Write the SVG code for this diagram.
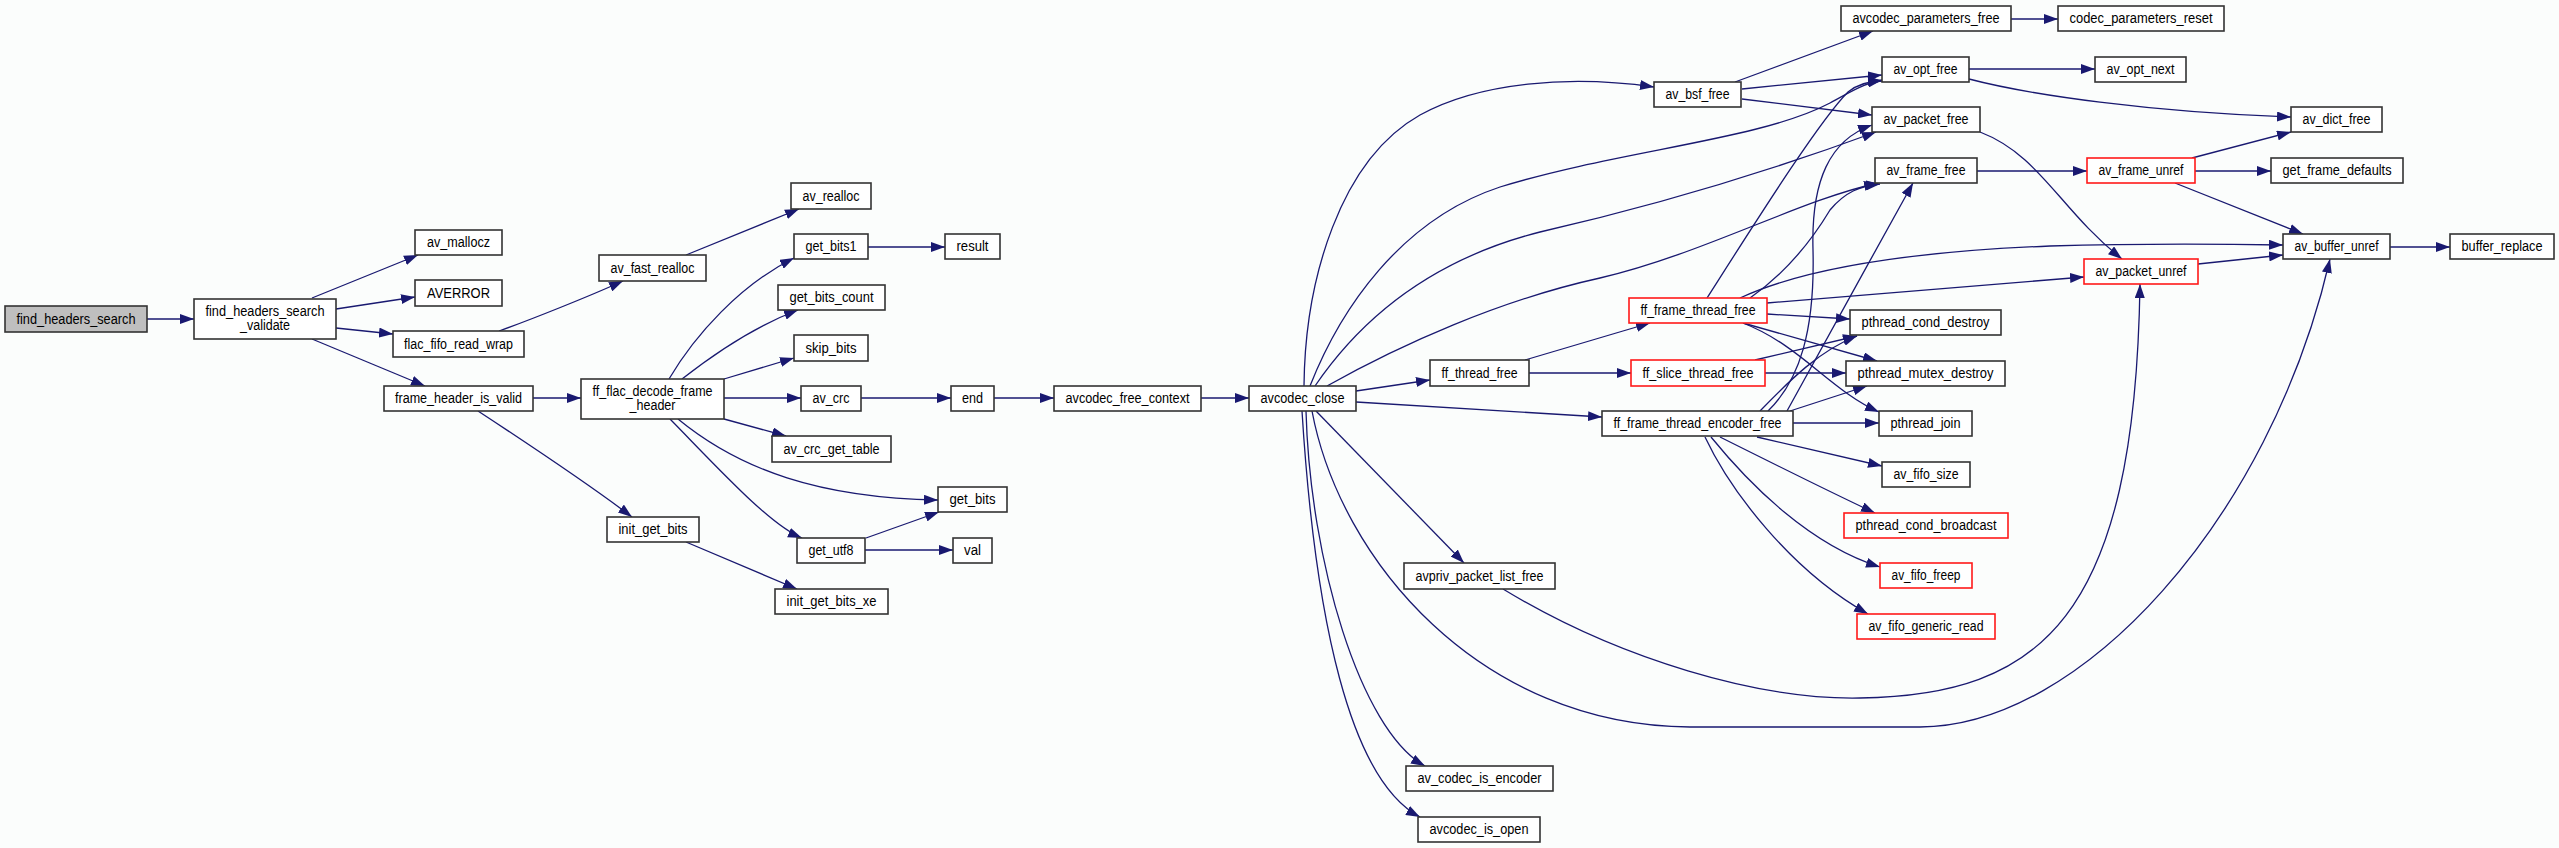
<svg xmlns="http://www.w3.org/2000/svg" width="2559" height="848" viewBox="0 0 2559 848">
<style>
.n rect{fill:#fff;stroke:#333;stroke-width:1.6}
.r rect{stroke:#ff1a1a}
.g rect{fill:#bfbfbf}
text{font-family:"Liberation Sans",Arial,sans-serif;font-size:14px;fill:#000;text-anchor:middle}
#edges path{fill:none;stroke:#191970;stroke-width:1.3;marker-end:url(#a)}
</style>
<defs>
<marker id="a" markerUnits="userSpaceOnUse" markerWidth="14" markerHeight="10" refX="14" refY="5" orient="auto">
<path d="M0,0 L14,5 L0,10 z" fill="#191970"/>
</marker>
</defs>
<rect x="0" y="0" width="2559" height="848" fill="#fbfdfc"/>
<g id="edges">
<path d="M147,319 L194,319"/>
<path d="M312,298 L418,255"/>
<path d="M336,309 L415,297"/>
<path d="M336,328 L393,334"/>
<path d="M312,339 L425,386"/>
<path d="M499,331 C530,320 590,296 623,281"/>
<path d="M686,255 L799,209"/>
<path d="M533,398 L581,398"/>
<path d="M478,411 C510,432 590,485 632,517"/>
<path d="M669,379 C695,335 740,285 794,258"/>
<path d="M682,379 C710,357 750,328 798,310"/>
<path d="M724,379 L794,358"/>
<path d="M724,398 L801,398"/>
<path d="M724,419 L786,436"/>
<path d="M678,419 C740,470 820,498 938,500"/>
<path d="M670,419 C720,470 770,525 802,538"/>
<path d="M686,542 L797,589"/>
<path d="M868,247 L945,247"/>
<path d="M866,538 L939,512"/>
<path d="M865,550 L953,550"/>
<path d="M861,398 L951,398"/>
<path d="M994,398 L1054,398"/>
<path d="M1201,398 L1249,398"/>
<path d="M1304,386 C1305,280 1340,160 1420,115 C1480,82 1570,75 1654,87"/>
<path d="M1310,386 C1340,310 1400,220 1500,187 C1620,150 1760,140 1830,103 C1850,92 1865,83 1882,80"/>
<path d="M1315,386 C1360,320 1430,260 1540,232 C1680,200 1800,160 1876,132"/>
<path d="M1327,386 C1400,345 1500,300 1600,278 C1700,255 1800,200 1878,183"/>
<path d="M1356,391 L1430,380"/>
<path d="M1356,402 L1602,417"/>
<path d="M1316,411 L1464,563"/>
<path d="M1306,411 C1310,560 1360,730 1425,766"/>
<path d="M1302,411 C1315,620 1350,780 1420,817"/>
<path d="M1312,411 C1340,560 1480,726 1690,727 L1920,727 C2080,727 2270,520 2330,259"/>
<path d="M1503,589 C1620,660 1760,700 1860,698 C2040,695 2135,620 2140,284"/>
<path d="M1525,360 L1650,323"/>
<path d="M1529,373 L1631,373"/>
<path d="M1707,298 C1760,215 1820,120 1848,92 C1858,84 1870,81 1882,81"/>
<path d="M1750,298 C1790,270 1815,235 1830,210 C1845,192 1860,186 1880,184"/>
<path d="M1740,298 C1800,270 1900,252 2050,246 C2150,243 2230,244 2283,245"/>
<path d="M1767,303 C1900,292 2000,283 2084,277"/>
<path d="M1767,314 L1850,319"/>
<path d="M1743,323 L1877,361"/>
<path d="M1743,323 C1800,345 1830,390 1879,412"/>
<path d="M1755,360 L1857,336"/>
<path d="M1765,373 L1846,373"/>
<path d="M1760,411 C1790,380 1820,350 1857,336"/>
<path d="M1790,411 L1867,386"/>
<path d="M1768,411 C1800,380 1815,330 1813,250 C1811,180 1830,140 1872,125"/>
<path d="M1787,411 C1810,370 1870,260 1913,183"/>
<path d="M1793,423 L1879,423"/>
<path d="M1757,437 L1882,466"/>
<path d="M1720,437 C1770,462 1830,492 1875,513"/>
<path d="M1711,437 C1750,485 1810,545 1880,567"/>
<path d="M1705,437 C1730,490 1790,570 1868,614"/>
<path d="M1735,82 L1873,31"/>
<path d="M1742,89 L1882,75"/>
<path d="M1742,99 L1872,115"/>
<path d="M2011,19 L2058,19"/>
<path d="M1969,69 L2095,69"/>
<path d="M1969,79 C2030,95 2150,112 2291,117"/>
<path d="M1980,132 C2040,155 2060,210 2122,259"/>
<path d="M1977,171 L2087,171"/>
<path d="M2192,158 L2291,132"/>
<path d="M2195,171 L2271,171"/>
<path d="M2175,183 L2303,234"/>
<path d="M2198,264 L2283,255"/>
<path d="M2390,247 L2450,247"/>
</g>
<g id="n1" class="n g"><rect x="5" y="306" width="142" height="26"/><text x="76" y="323.5" textLength="119" lengthAdjust="spacingAndGlyphs">find_headers_search</text></g>
<g id="n2" class="n"><rect x="194" y="299" width="142" height="40"/><text x="265" y="316" textLength="119" lengthAdjust="spacingAndGlyphs">find_headers_search</text><text x="265" y="329.5" textLength="50" lengthAdjust="spacingAndGlyphs">_validate</text></g>
<g id="n3" class="n"><rect x="415" y="230" width="87" height="25"/><text x="458.5" y="247" textLength="63" lengthAdjust="spacingAndGlyphs">av_mallocz</text></g>
<g id="n4" class="n"><rect x="415" y="280" width="87" height="26"/><text x="458.5" y="297.5" textLength="63" lengthAdjust="spacingAndGlyphs">AVERROR</text></g>
<g id="n5" class="n"><rect x="393" y="331" width="131" height="26"/><text x="458.5" y="348.5" textLength="109" lengthAdjust="spacingAndGlyphs">flac_fifo_read_wrap</text></g>
<g id="n6" class="n"><rect x="384" y="386" width="149" height="25"/><text x="458.5" y="403" textLength="127" lengthAdjust="spacingAndGlyphs">frame_header_is_valid</text></g>
<g id="n7" class="n"><rect x="599" y="255" width="107" height="26"/><text x="652.5" y="272.5" textLength="84" lengthAdjust="spacingAndGlyphs">av_fast_realloc</text></g>
<g id="n8" class="n"><rect x="791" y="183" width="80" height="26"/><text x="831" y="200.5" textLength="57" lengthAdjust="spacingAndGlyphs">av_realloc</text></g>
<g id="n9" class="n"><rect x="581" y="379" width="143" height="40"/><text x="652.5" y="396" textLength="120" lengthAdjust="spacingAndGlyphs">ff_flac_decode_frame</text><text x="652.5" y="409.5" textLength="46" lengthAdjust="spacingAndGlyphs">_header</text></g>
<g id="n10" class="n"><rect x="794" y="234" width="74" height="25"/><text x="831" y="251" textLength="51" lengthAdjust="spacingAndGlyphs">get_bits1</text></g>
<g id="n11" class="n"><rect x="945" y="234" width="55" height="25"/><text x="972.5" y="251" textLength="32" lengthAdjust="spacingAndGlyphs">result</text></g>
<g id="n12" class="n"><rect x="778" y="285" width="107" height="25"/><text x="831.5" y="302" textLength="84" lengthAdjust="spacingAndGlyphs">get_bits_count</text></g>
<g id="n13" class="n"><rect x="794" y="335" width="74" height="26"/><text x="831" y="352.5" textLength="51" lengthAdjust="spacingAndGlyphs">skip_bits</text></g>
<g id="n14" class="n"><rect x="801" y="386" width="60" height="25"/><text x="831" y="403" textLength="37" lengthAdjust="spacingAndGlyphs">av_crc</text></g>
<g id="n15" class="n"><rect x="772" y="436" width="119" height="26"/><text x="831.5" y="453.5" textLength="96" lengthAdjust="spacingAndGlyphs">av_crc_get_table</text></g>
<g id="n16" class="n"><rect x="938" y="487" width="69" height="25"/><text x="972.5" y="504" textLength="46" lengthAdjust="spacingAndGlyphs">get_bits</text></g>
<g id="n17" class="n"><rect x="607" y="517" width="92" height="25"/><text x="653" y="534" textLength="69" lengthAdjust="spacingAndGlyphs">init_get_bits</text></g>
<g id="n18" class="n"><rect x="797" y="538" width="68" height="25"/><text x="831" y="555" textLength="45" lengthAdjust="spacingAndGlyphs">get_utf8</text></g>
<g id="n19" class="n"><rect x="953" y="538" width="39" height="25"/><text x="972.5" y="555" textLength="17" lengthAdjust="spacingAndGlyphs">val</text></g>
<g id="n20" class="n"><rect x="775" y="589" width="113" height="25"/><text x="831.5" y="606" textLength="90" lengthAdjust="spacingAndGlyphs">init_get_bits_xe</text></g>
<g id="n21" class="n"><rect x="951" y="386" width="43" height="25"/><text x="972.5" y="403" textLength="21" lengthAdjust="spacingAndGlyphs">end</text></g>
<g id="n22" class="n"><rect x="1054" y="386" width="147" height="25"/><text x="1127.5" y="403" textLength="124" lengthAdjust="spacingAndGlyphs">avcodec_free_context</text></g>
<g id="n23" class="n"><rect x="1249" y="386" width="107" height="25"/><text x="1302.5" y="403" textLength="84" lengthAdjust="spacingAndGlyphs">avcodec_close</text></g>
<g id="n24" class="n"><rect x="1430" y="360" width="99" height="26"/><text x="1479.5" y="377.5" textLength="76" lengthAdjust="spacingAndGlyphs">ff_thread_free</text></g>
<g id="n25" class="n r"><rect x="1629" y="298" width="138" height="25"/><text x="1698" y="315" textLength="115" lengthAdjust="spacingAndGlyphs">ff_frame_thread_free</text></g>
<g id="n26" class="n r"><rect x="1631" y="360" width="134" height="26"/><text x="1698" y="377.5" textLength="111" lengthAdjust="spacingAndGlyphs">ff_slice_thread_free</text></g>
<g id="n27" class="n"><rect x="1602" y="411" width="191" height="25"/><text x="1697.5" y="428" textLength="168" lengthAdjust="spacingAndGlyphs">ff_frame_thread_encoder_free</text></g>
<g id="n28" class="n"><rect x="1654" y="82" width="87" height="25"/><text x="1697.5" y="99" textLength="64" lengthAdjust="spacingAndGlyphs">av_bsf_free</text></g>
<g id="n29" class="n"><rect x="1841" y="6" width="170" height="25"/><text x="1926" y="23" textLength="147" lengthAdjust="spacingAndGlyphs">avcodec_parameters_free</text></g>
<g id="n30" class="n"><rect x="2058" y="6" width="166" height="25"/><text x="2141" y="23" textLength="143" lengthAdjust="spacingAndGlyphs">codec_parameters_reset</text></g>
<g id="n31" class="n"><rect x="1882" y="57" width="87" height="25"/><text x="1925.5" y="74" textLength="64" lengthAdjust="spacingAndGlyphs">av_opt_free</text></g>
<g id="n32" class="n"><rect x="2095" y="57" width="91" height="25"/><text x="2140.5" y="74" textLength="68" lengthAdjust="spacingAndGlyphs">av_opt_next</text></g>
<g id="n33" class="n"><rect x="1872" y="107" width="108" height="25"/><text x="1926" y="124" textLength="85" lengthAdjust="spacingAndGlyphs">av_packet_free</text></g>
<g id="n34" class="n"><rect x="2291" y="107" width="91" height="25"/><text x="2336.5" y="124" textLength="68" lengthAdjust="spacingAndGlyphs">av_dict_free</text></g>
<g id="n35" class="n"><rect x="1875" y="158" width="102" height="25"/><text x="1926" y="175" textLength="79" lengthAdjust="spacingAndGlyphs">av_frame_free</text></g>
<g id="n36" class="n r"><rect x="2087" y="158" width="108" height="25"/><text x="2141" y="175" textLength="85" lengthAdjust="spacingAndGlyphs">av_frame_unref</text></g>
<g id="n37" class="n"><rect x="2271" y="158" width="132" height="25"/><text x="2337" y="175" textLength="109" lengthAdjust="spacingAndGlyphs">get_frame_defaults</text></g>
<g id="n38" class="n"><rect x="2283" y="234" width="107" height="25"/><text x="2336.5" y="251" textLength="84" lengthAdjust="spacingAndGlyphs">av_buffer_unref</text></g>
<g id="n39" class="n"><rect x="2450" y="234" width="104" height="25"/><text x="2502" y="251" textLength="81" lengthAdjust="spacingAndGlyphs">buffer_replace</text></g>
<g id="n40" class="n r"><rect x="2084" y="259" width="114" height="25"/><text x="2141" y="276" textLength="91" lengthAdjust="spacingAndGlyphs">av_packet_unref</text></g>
<g id="n41" class="n"><rect x="1850" y="310" width="151" height="25"/><text x="1925.5" y="327" textLength="128" lengthAdjust="spacingAndGlyphs">pthread_cond_destroy</text></g>
<g id="n42" class="n"><rect x="1846" y="361" width="159" height="25"/><text x="1925.5" y="378" textLength="136" lengthAdjust="spacingAndGlyphs">pthread_mutex_destroy</text></g>
<g id="n43" class="n"><rect x="1879" y="411" width="93" height="25"/><text x="1925.5" y="428" textLength="70" lengthAdjust="spacingAndGlyphs">pthread_join</text></g>
<g id="n44" class="n"><rect x="1882" y="462" width="88" height="25"/><text x="1926" y="479" textLength="65" lengthAdjust="spacingAndGlyphs">av_fifo_size</text></g>
<g id="n45" class="n r"><rect x="1844" y="513" width="164" height="25"/><text x="1926" y="530" textLength="141" lengthAdjust="spacingAndGlyphs">pthread_cond_broadcast</text></g>
<g id="n46" class="n r"><rect x="1880" y="563" width="92" height="25"/><text x="1926" y="580" textLength="69" lengthAdjust="spacingAndGlyphs">av_fifo_freep</text></g>
<g id="n47" class="n r"><rect x="1857" y="614" width="138" height="25"/><text x="1926" y="631" textLength="115" lengthAdjust="spacingAndGlyphs">av_fifo_generic_read</text></g>
<g id="n48" class="n"><rect x="1404" y="563" width="151" height="26"/><text x="1479.5" y="580.5" textLength="128" lengthAdjust="spacingAndGlyphs">avpriv_packet_list_free</text></g>
<g id="n49" class="n"><rect x="1406" y="766" width="147" height="25"/><text x="1479.5" y="783" textLength="124" lengthAdjust="spacingAndGlyphs">av_codec_is_encoder</text></g>
<g id="n50" class="n"><rect x="1418" y="817" width="122" height="25"/><text x="1479" y="834" textLength="99" lengthAdjust="spacingAndGlyphs">avcodec_is_open</text></g>
</svg>
